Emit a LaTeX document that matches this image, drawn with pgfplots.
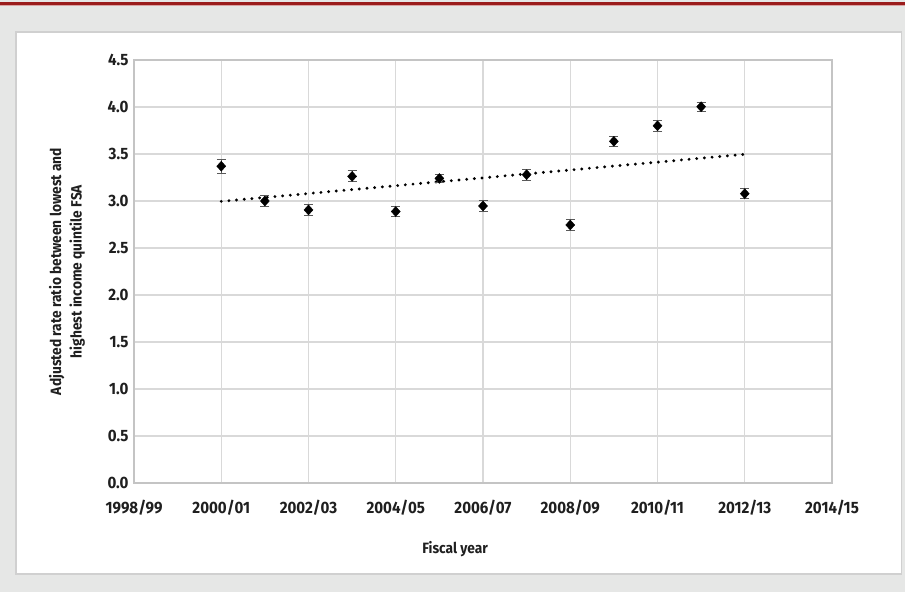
\documentclass[border=0pt]{standalone}
\usepackage{pgfplots}
\pgfplotsset{compat=1.18}
\usepackage{fontspec}
\setmainfont{Fira Sans}[FakeStretch=0.92]
\definecolor{bg}{HTML}{E6E7E6}
\definecolor{redline}{HTML}{9B1C1C}
\definecolor{redlight}{HTML}{D8A4A4}
\definecolor{gridc}{HTML}{D9D9D9}
\definecolor{axisc}{HTML}{C4C4C4}
\definecolor{panelb}{HTML}{D0D0D0}
\pgfplotstableread{
x y e
2 3.370 0.075
3 3.000 0.060
4 2.905 0.060
5 3.262 0.058
6 2.888 0.055
7 3.240 0.045
8 2.947 0.055
9 3.280 0.060
10 2.745 0.055
11 3.635 0.055
12 3.800 0.058
13 4.003 0.047
14 3.078 0.050
}\ratios
\begin{document}
\begin{tikzpicture}
\fill[bg] (0bp,0bp) rectangle (905bp,592bp);
\fill[redline] (0bp,586.6bp) rectangle (905bp,589.8bp);
\fill[redlight] (0bp,585.6bp) rectangle (905bp,586.6bp);
\filldraw[fill=white, draw=panelb, line width=1.5bp] (16bp,18bp) rectangle (901.5bp,560bp);
\begin{axis}[
  at={(134bp,109bp)}, anchor=origin,
  scale only axis, width=698bp, height=423bp,
  xmin=0, xmax=16, ymin=0, ymax=4.5,
  xtick={0,2,...,16},
  xticklabels={1998/99,2000/01,2002/03,2004/05,2006/07,2008/09,2010/11,2012/13,2014/15},
  ytick={0,0.5,...,4.5},
  yticklabel={\pgfmathprintnumber[fixed,fixed zerofill,precision=1,assume math mode=true]{\tick}},
  grid=major,
  major grid style={gridc, line width=1.2bp},
  axis line style={axisc, line width=1.3bp},
  major tick length=0pt,
  tick label style={font=\bfseries\fontsize{16.5}{18}\selectfont, text=black!88},
  xticklabel style={anchor=center, yshift=-25bp},
  yticklabel style={anchor=east, xshift=-2bp},
  every axis x label/.style={at={(axis description cs:0.46,0)}, yshift=-66bp, anchor=center, font=\bfseries\fontsize{15}{17}\selectfont, text=black!88},
  every axis y label/.style={at={(axis description cs:0,0.5)}, xshift=-67bp, rotate=90, anchor=center, align=center, font=\bfseries\fontsize{15}{20.5}\selectfont, text=black!88},
  xlabel={Fiscal year},
  ylabel={Adjusted rate ratio between lowest and\\highest income quintile FSA},
  clip=false,
]
\addplot[black, line width=3.2bp, line cap=round, dash pattern=on 0bp off 7.7bp] coordinates {(2,2.996) (14,3.497)};
\addplot[only marks, mark=diamond*, mark size=5bp, mark options={fill=black, draw=black, xscale=1.2},
  error bars/.cd, y dir=both, y explicit,
  error bar style={black!65, line width=1bp},
  error mark options={rotate=90, mark size=4.5bp, black!65, line width=1bp}]
  table[x=x, y=y, y error=e] {\ratios};
\end{axis}
\end{tikzpicture}
\end{document}
